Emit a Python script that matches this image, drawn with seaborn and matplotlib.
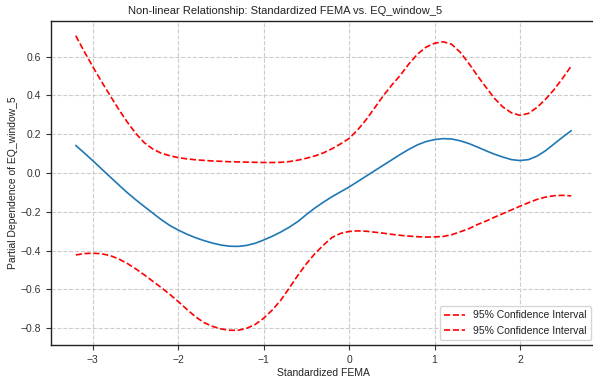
import matplotlib
matplotlib.use("Agg")
import matplotlib.pyplot as plt
import seaborn as sns
import pandas as pd

x_vals = [-3.2, -3.1, -3.0, -2.9, -2.8, -2.7, -2.6, -2.5, -2.4, -2.3, -2.2, -2.1,
          -2.0, -1.9, -1.8, -1.7, -1.6, -1.5, -1.4, -1.3, -1.2, -1.1, -1.0, -0.9,
          -0.8, -0.7, -0.6, -0.5, -0.4, -0.3, -0.2, -0.1, 0.0, 0.1, 0.2, 0.3,
          0.4, 0.5, 0.6, 0.7, 0.8, 0.9, 1.0, 1.1, 1.2, 1.3, 1.4, 1.5,
          1.6, 1.7, 1.8, 1.9, 2.0, 2.1, 2.2, 2.3, 2.4, 2.5, 2.6]
partial_dep = [0.142, 0.103, 0.063, 0.022, -0.019, -0.060, -0.100, -0.137, -0.172, -0.206, -0.240, -0.270,
               -0.294, -0.315, -0.333, -0.348, -0.361, -0.371, -0.377, -0.378, -0.373, -0.362, -0.345, -0.326,
               -0.304, -0.279, -0.250, -0.214, -0.180, -0.150, -0.122, -0.097, -0.072, -0.044, -0.016, 0.012,
               0.040, 0.068, 0.096, 0.122, 0.145, 0.162, 0.172, 0.177, 0.175, 0.166, 0.152, 0.134,
               0.115, 0.097, 0.082, 0.069, 0.064, 0.069, 0.087, 0.115, 0.150, 0.185, 0.218]
upper_ci = [0.707, 0.625, 0.547, 0.472, 0.400, 0.330, 0.264, 0.205, 0.157, 0.124, 0.102, 0.089,
            0.079, 0.073, 0.068, 0.065, 0.062, 0.060, 0.058, 0.057, 0.056, 0.055, 0.054, 0.054,
            0.055, 0.059, 0.066, 0.076, 0.088, 0.104, 0.125, 0.150, 0.178, 0.222, 0.275, 0.336,
            0.398, 0.453, 0.504, 0.562, 0.612, 0.648, 0.668, 0.676, 0.663, 0.622, 0.565, 0.502,
            0.443, 0.385, 0.340, 0.310, 0.297, 0.307, 0.338, 0.380, 0.430, 0.488, 0.551]
lower_ci = [-0.422, -0.415, -0.413, -0.416, -0.425, -0.442, -0.465, -0.493, -0.524, -0.557, -0.590, -0.625,
            -0.662, -0.702, -0.740, -0.770, -0.790, -0.803, -0.810, -0.810, -0.800, -0.780, -0.748, -0.706,
            -0.655, -0.592, -0.527, -0.467, -0.415, -0.371, -0.332, -0.311, -0.301, -0.298, -0.300, -0.305,
            -0.310, -0.316, -0.321, -0.325, -0.328, -0.330, -0.329, -0.327, -0.318, -0.303, -0.287, -0.266,
            -0.248, -0.228, -0.209, -0.190, -0.171, -0.153, -0.136, -0.124, -0.117, -0.115, -0.118]

title = "Non-linear Relationship: Standardized FEMA vs. EQ_window_5"
x_label = "Standardized FEMA"
y_label = "Partial Dependence of EQ_window_5"
ci_label = "95% Confidence Interval"

df = pd.DataFrame({"x": x_vals, "pd": partial_dep, "up": upper_ci, "lo": lower_ci})

sns.set_style("ticks", {"axes.grid": True, "grid.linestyle": "--", "grid.color": "#cccccc",
                        "axes.edgecolor": "#222222", "xtick.color": "#333333",
                        "ytick.color": "#333333", "text.color": "#222222",
                        "axes.labelcolor": "#222222"})
plt.rcParams["font.family"] = ["Liberation Sans", "DejaVu Sans"]

fig = plt.figure(figsize=(5.93, 3.78), dpi=100)
ax = fig.add_axes([51 / 593, 33 / 378, 545 / 593, 324 / 378])

sns.lineplot(data=df, x="x", y="pd", ax=ax, color="#1f77b4", linewidth=1.2)
sns.lineplot(data=df, x="x", y="up", ax=ax, color="red", linestyle="--", linewidth=1.2, label=ci_label)
sns.lineplot(data=df, x="x", y="lo", ax=ax, color="red", linestyle="--", linewidth=1.2, label=ci_label)

ax.grid(True, linestyle="--", color="#cccccc", linewidth=0.8)
ax.set_title(title, fontsize=8, x=0.43, pad=5)
ax.set_xlabel(x_label, fontsize=7.5, labelpad=2)
ax.set_ylabel(y_label, fontsize=7.5, labelpad=2)
ax.tick_params(labelsize=7.5, length=3.5, width=0.8)
for s in ax.spines.values():
    s.set_linewidth(1.0)
ax.legend(loc="lower right", fontsize=7.5, frameon=True)

fig.savefig("out.png", dpi=100)
